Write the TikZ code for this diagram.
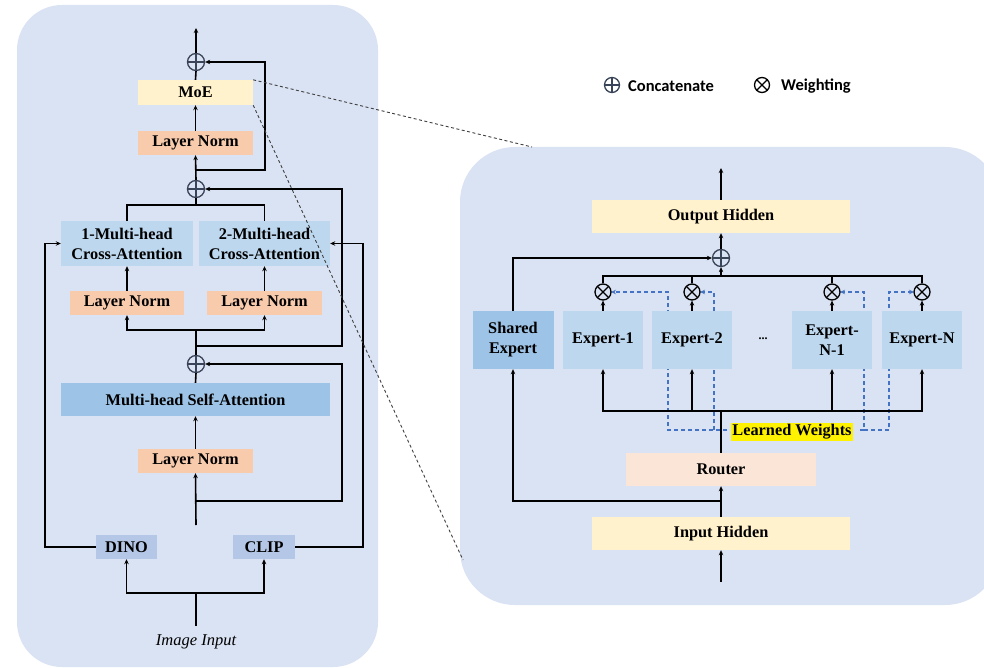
\documentclass[tikz,border=0pt]{standalone}
\usepackage{fontspec}
\setmainfont{Liberation Serif}
\newfontfamily\legfont{Carlito}[UprightFont={* Bold}]
\usetikzlibrary{arrows.meta}
\definecolor{panel}{HTML}{DAE3F3}
\definecolor{yel}{HTML}{FFF2CC}
\definecolor{lnc}{HTML}{F8CBAD}
\definecolor{cac}{HTML}{BDD7EE}
\definecolor{mhc}{HTML}{9DC3E6}
\definecolor{dnc}{HTML}{B4C7E7}
\definecolor{rtc}{HTML}{FBE5D6}
\definecolor{bdc}{HTML}{4472C4}
\definecolor{circc}{HTML}{3A4458}
\begin{document}
\begin{tikzpicture}[x=1pt,y=-1pt,
  box/.style={inner sep=0pt, align=center, font=\fontsize{16.3}{20}\selectfont\bfseries},
  ln/.style={line width=1.6pt, black},
  arr/.style={ln, -{Stealth[length=5pt,width=4.5pt]}},
  bdash/.style={line width=1.2pt, bdc, dash pattern=on 4pt off 3pt},
  barr/.style={bdash, -{Stealth[length=5pt,width=4.5pt]}},
  zoomline/.style={line width=0.9pt, black!75, dash pattern=on 3pt off 2.5pt},
  oplus/.style={circle, draw=circc, line width=1.3pt, minimum size=17pt, inner sep=0pt,
    path picture={\draw[circc, line width=1.3pt] (path picture bounding box.north)--(path picture bounding box.south) (path picture bounding box.west)--(path picture bounding box.east);}},
  otimes/.style={circle, draw=black, line width=1.3pt, minimum size=16pt, inner sep=0pt,
    path picture={\draw[black, line width=1.3pt] (path picture bounding box.north west)--(path picture bounding box.south east) (path picture bounding box.north east)--(path picture bounding box.south west);}}
]
\useasboundingbox (0,0) rectangle (984,668);
\fill[white] (0,0) rectangle (984,668);
% panels
\fill[panel] (17,5) [rounded corners=45pt] rectangle (378,667);
\fill[panel] (460,147) [rounded corners=55pt] rectangle (1000,605);

% ===== left panel nodes =====
\node[oplus] (p1) at (196,62) {};
\node[box, fill=yel, minimum width=115, minimum height=25] (moe) at (195.5,92.5) {MoE};
\node[box, fill=lnc, minimum width=115, minimum height=24] (lna) at (195.5,143) {Layer Norm};
\node[oplus] (p2) at (196,189) {};
\node[box, fill=cac, minimum width=132, minimum height=45] (ca1) at (127,243.5) {1-Multi-head\\Cross-Attention};
\node[box, fill=cac, minimum width=131, minimum height=45] (ca2) at (264.5,243.5) {2-Multi-head\\Cross-Attention};
\node[box, fill=lnc, minimum width=114, minimum height=24] (ln1) at (127,303) {Layer Norm};
\node[box, fill=lnc, minimum width=115, minimum height=24] (ln2) at (264.5,303) {Layer Norm};
\node[oplus] (p3) at (196,364) {};
\node[box, fill=mhc, minimum width=269, minimum height=33] (mhsa) at (195.5,399.5) {Multi-head Self-Attention};
\node[box, fill=lnc, minimum width=115, minimum height=24] (ln3) at (195.5,461) {Layer Norm};
\node[box, fill=dnc, minimum width=61, minimum height=24] (dino) at (126.5,547) {DINO};
\node[box, fill=dnc, minimum width=62, minimum height=24] (clip) at (264,547) {CLIP};
\node[inner sep=0pt, font=\fontsize{16.5}{20}\selectfont\itshape] (img) at (196,642) {Image Input};

\coordinate (top1) at (196,28);
\coordinate (j1) at (196,170);
\coordinate (j2) at (196,346);
\coordinate (j3) at (196,501);
\coordinate (bar1) at (196,205);
\coordinate (bar2) at (196,330);
\coordinate (in3) at (196,525);
\coordinate (inb) at (196,593);
\coordinate (ins) at (196,626);

% ===== left panel connectors =====
\draw[arr] (p1.north) -- (top1);
\draw[ln] (moe.north) -- (p1.south);
\draw[arr] (lna.north) -- (moe.south);
\draw[arr] (p2.north) -- (lna.south);
\draw[arr] (j1) -- (265,170) -- (265,62) -- (p1.east);
\draw[ln] (p2.south) -- (bar1);
\draw[ln] (ca1.north) -- (127,205) -- (264.5,205) -- (ca2.north);
\draw[arr] (ln1.north) -- (ca1.south);
\draw[arr] (ln2.north) -- (ca2.south);
\draw[arr] (bar2) -- (127,330) -- (ln1.south);
\draw[arr] (bar2) -- (264.5,330) -- (ln2.south);
\draw[ln] (bar2) -- (p3.north);
\draw[arr] (j2) -- (342,346) -- (342,189) -- (p2.east);
\draw[ln] (mhsa.north) -- (p3.south);
\draw[arr] (ln3.north) -- (mhsa.south);
\draw[arr] (in3) -- (ln3.south);
\draw[arr] (j3) -- (342,501) -- (342,364) -- (p3.east);
\draw[arr] (dino.west) -- (45,547) -- (45,243.5) -- (ca1.west);
\draw[arr] (clip.east) -- (363,547) -- (363,243.5) -- (ca2.east);
\draw[ln] (ins) -- (inb);
\draw[arr] (inb) -- (126.5,593) -- (dino.south);
\draw[arr] (inb) -- (264,593) -- (clip.south);

% ===== zoom lines =====
\coordinate (zt) at (532,147);
\coordinate (zb) at (463,560);
\draw[zoomline] (moe.north east) -- (zt);
\draw[zoomline] (moe.south east) -- (zb);

% ===== legend =====
\node[oplus, minimum size=15pt] (lg1) at (612,85) {};
\node[anchor=west, inner sep=0pt, font=\legfont\fontsize{16.5}{18}\selectfont] (lgt1) at (628,86) {Concatenate};
\node[otimes, minimum size=15pt] (lg2) at (762,85) {};
\node[anchor=west, inner sep=0pt, font=\legfont\fontsize{16.5}{18}\selectfont] (lgt2) at (781,86) {Weighting};

% ===== right panel =====
\coordinate (lw1) at (727,430);
\coordinate (lw2) at (860,430);
% dashed blue (behind boxes)
\draw[barr] (lw1) -- (668,430) -- (668,292) -- (603+8,292);
\draw[barr] (714,430) -- (714,292) -- (692+8,292);
\draw[barr] (lw2) -- (864,430) -- (864,292) -- (832+8,292);
\draw[barr] (864,430) -- (889,430) -- (889,292) -- (922-8,292);

\node[box, fill=yel, minimum width=258, minimum height=33] (outh) at (721,216.5) {Output Hidden};
\node[oplus] (q) at (721,258) {};
\node[box, fill=mhc, minimum width=81, minimum height=58] (se) at (513,340) {Shared\\Expert};
\node[box, fill=cac, minimum width=80, minimum height=58] (e1) at (603,340) {Expert-1};
\node[box, fill=cac, minimum width=80, minimum height=58] (e2) at (692,340) {Expert-2};
\node[inner sep=0pt, font=\fontsize{12}{14}\selectfont\bfseries] (dots) at (763,339) {...};
\node[box, fill=cac, minimum width=80, minimum height=58] (en1) at (832,340) {Expert-\\N-1};
\node[box, fill=cac, minimum width=80, minimum height=58] (en) at (922,340) {Expert-N};
\node[otimes] (w1) at (603,292) {};
\node[otimes] (w2) at (692,292) {};
\node[otimes] (w3) at (832,292) {};
\node[otimes] (w4) at (922,292) {};
\node[box, fill=rtc, minimum width=190, minimum height=33] (router) at (721,469.5) {Router};
\node[box, fill=yel, minimum width=258, minimum height=33] (inh) at (721,533.5) {Input Hidden};
\node[box, fill=yellow, inner sep=1.5pt] (lw) at (792,432) {Learned Weights};

\coordinate (otop) at (721,168);
\coordinate (rbar) at (721,276);
\coordinate (ebar) at (721,411);
\coordinate (rj) at (721,501);
\coordinate (rin) at (721,582);

\draw[arr] (outh.north) -- (otop);
\draw[arr] (q.north) -- (outh.south);
\draw[arr] (se.north) -- (513,258) -- (q.west);
\draw[arr] (rbar) -- (q.south);
\draw[ln] (w1.north) -- (603,276) -- (922,276) -- (w4.north);
\draw[ln] (w2.north) -- (692,276);
\draw[ln] (w3.north) -- (832,276);
\draw[arr] (e1.north) -- (w1.south);
\draw[arr] (e2.north) -- (w2.south);
\draw[arr] (en1.north) -- (w3.south);
\draw[arr] (en.north) -- (w4.south);
\draw[ln] (router.north) -- (ebar);
\draw[arr] (ebar) -- (603,411) -- (e1.south);
\draw[arr] (ebar) -- (922,411) -- (en.south);
\draw[arr] (692,411) -- (e2.south);
\draw[arr] (832,411) -- (en1.south);
\draw[arr] (inh.north) -- (router.south);
\draw[arr] (rj) -- (513,501) -- (se.south);
\draw[arr] (rin) -- (inh.south);
\end{tikzpicture}
\end{document}
